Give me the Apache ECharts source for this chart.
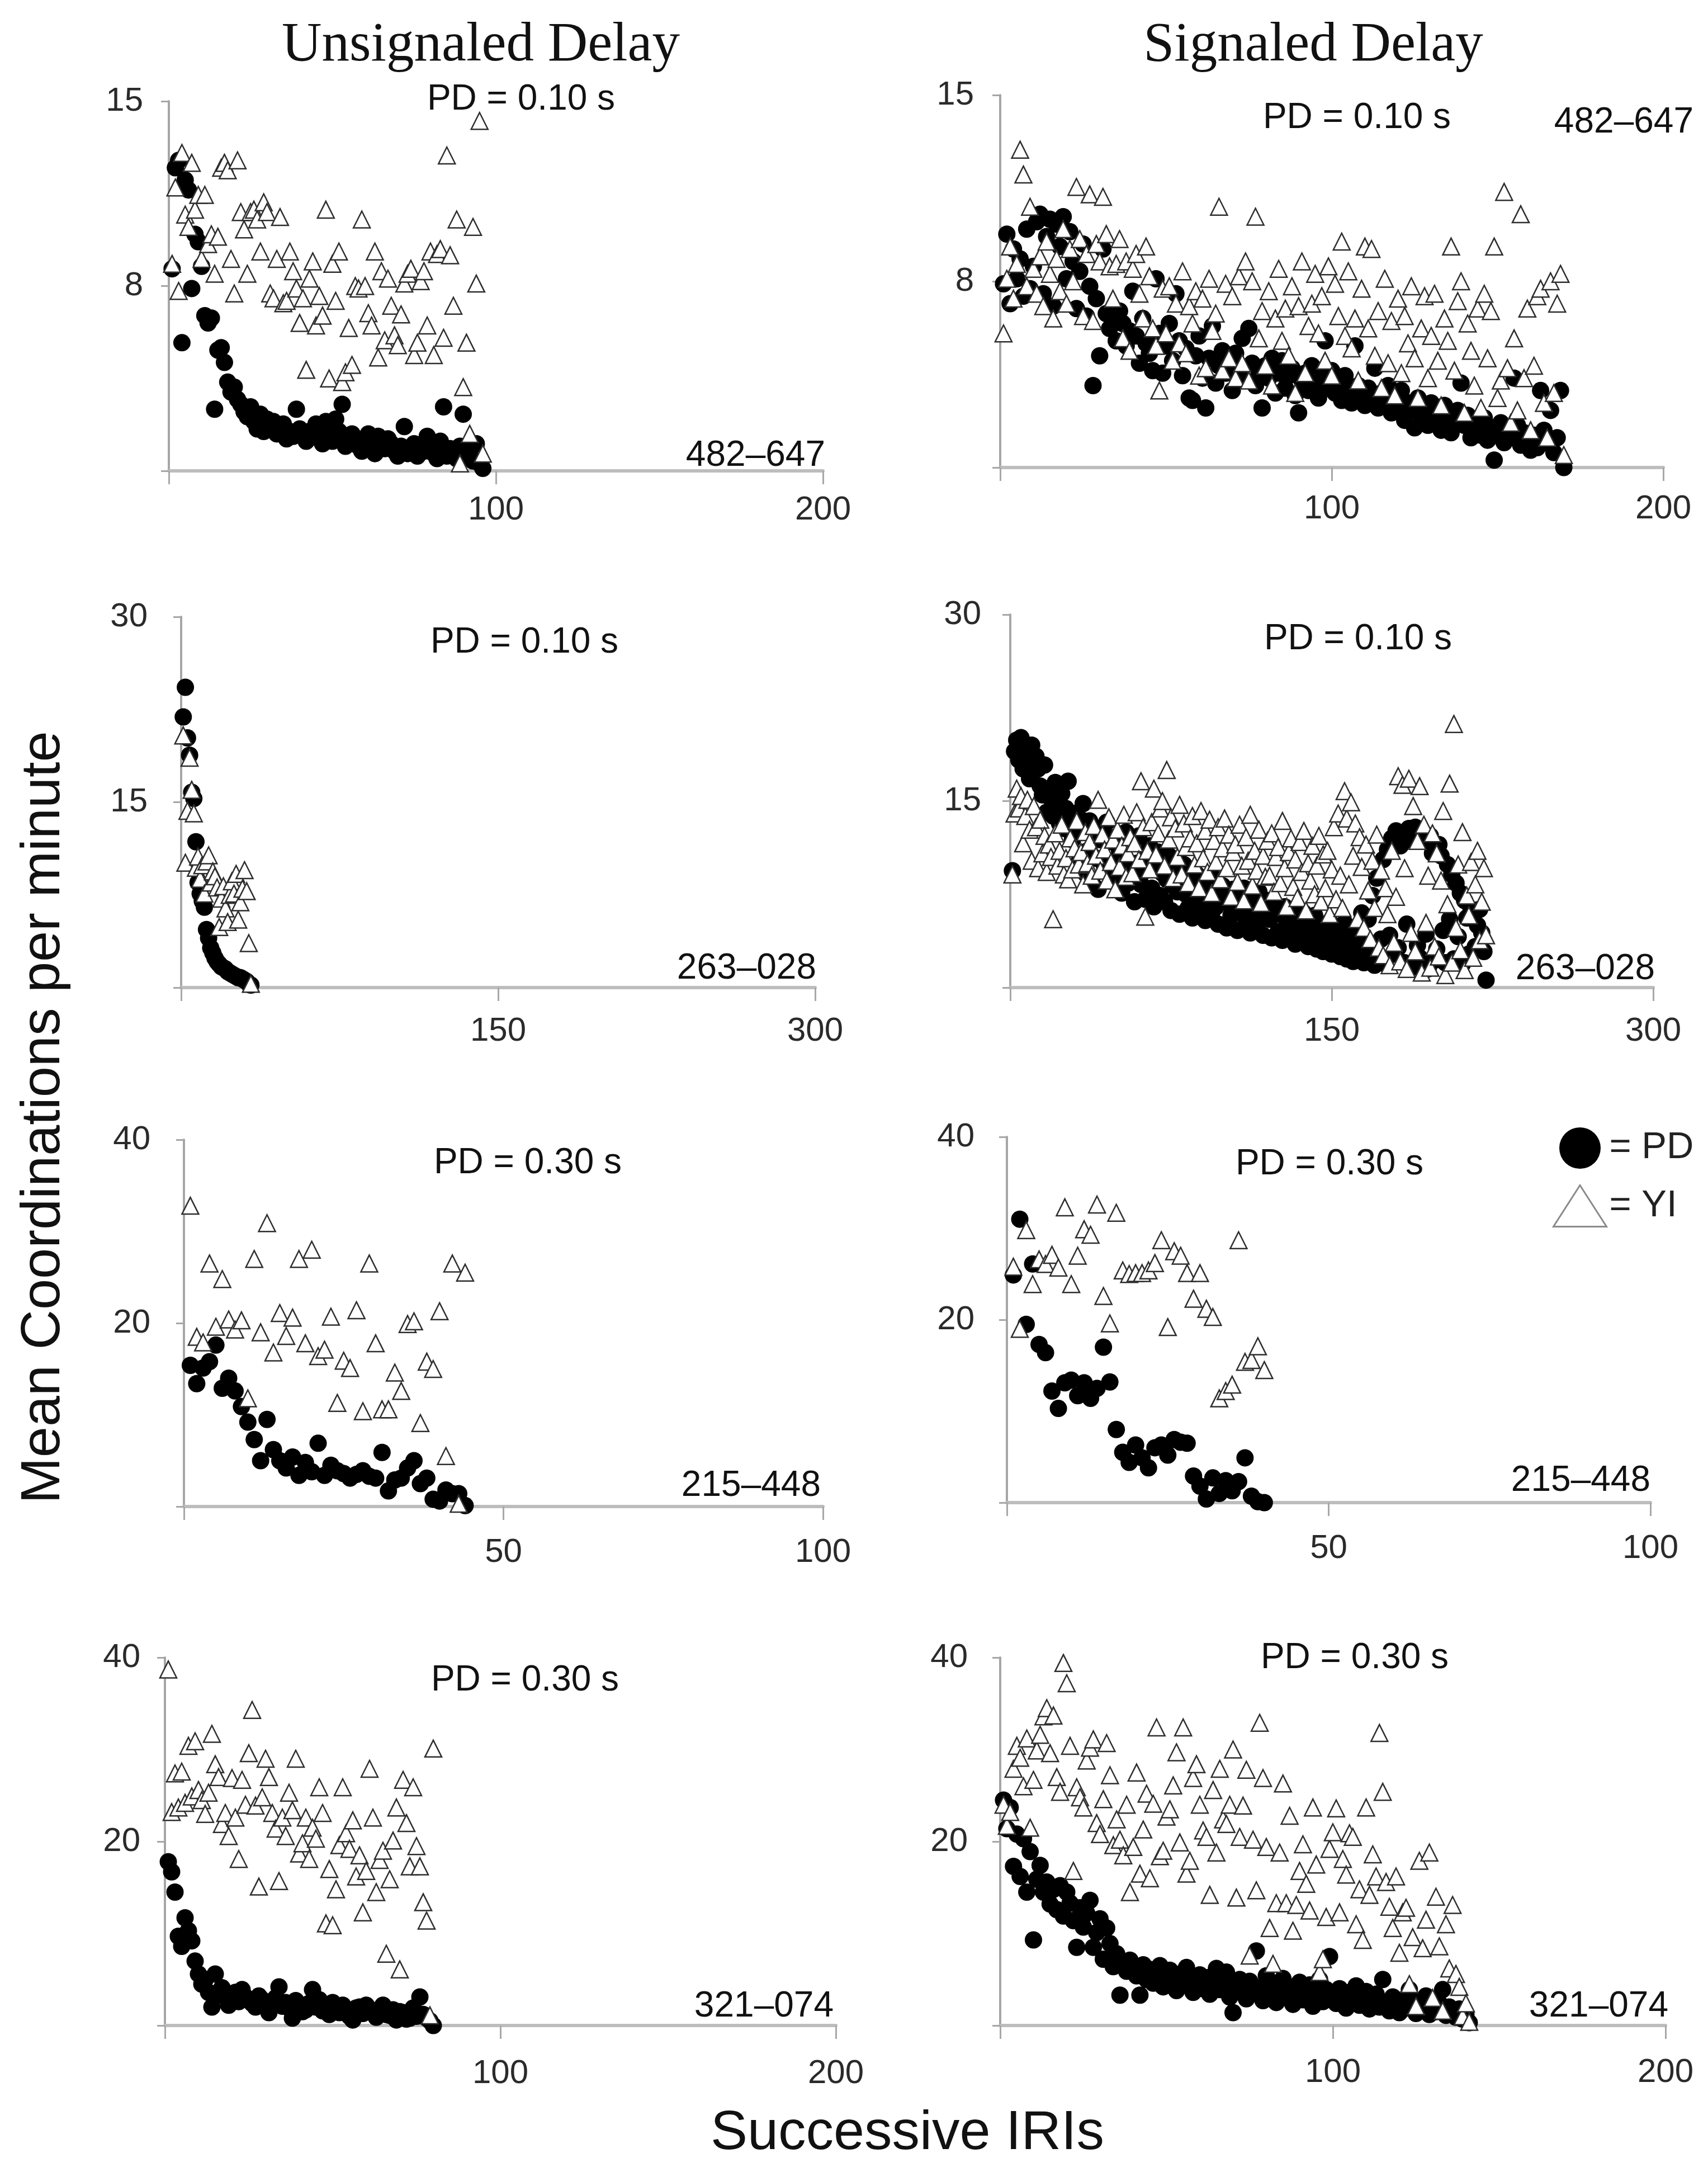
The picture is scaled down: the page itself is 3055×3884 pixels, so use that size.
<!DOCTYPE html>
<html>
<head>
<meta charset="utf-8">
<title>Mean Coordinations per minute</title>
<style>
  html, body { margin: 0; padding: 0; background: #fff; }
  #chart { width: 3055px; height: 3884px; }
</style>
</head>
<body>
<div id="chart"></div>
<script src="https://cdn.jsdelivr.net/npm/echarts@6.0.0/dist/echarts.min.js"></script>
<script>
// panel texts, left column = unsignaled, right column = signaled
var columnTitles = ['Unsignaled Delay', 'Signaled Delay'];
var pdLabels = ['PD = 0.10 s', 'PD = 0.10 s', 'PD = 0.10 s', 'PD = 0.10 s',
                'PD = 0.30 s', 'PD = 0.30 s', 'PD = 0.30 s', 'PD = 0.30 s'];
var subjects = ['482–647', '482–647', '263–028', '263–028',
                '215–448', '215–448', '321–074', '321–074'];

// axis ranges / tick steps
var yMax = [15, 15, 30, 30, 40, 40, 40, 40];
var yStep = [7.5, 7.5, 15, 15, 20, 20, 20, 20];
var xMax = [200, 200, 300, 300, 100, 100, 200, 200];
var xStep = [100, 100, 150, 150, 50, 50, 100, 100];

// one value per successive IRI (x = 1, 2, 3 ...)
var pd1 = [8.2, 12.3, 12.6, 5.2, 11.8, 11.4, 7.4, 9.6, 9.3, 8.3,
  6.3, 6.0, 6.2, 2.5, 4.9, 5.0, 4.4, 3.6, 3.2, 3.4,
  2.9, 2.7, 2.4, 2.2, 2.6, 2.0, 1.7, 2.3, 1.6, 2.1,
  1.8, 2.0, 1.5, 1.7, 1.9, 1.3, 1.6, 1.4, 2.5, 1.7,
  1.5, 1.2, 1.6, 1.4, 1.9, 1.3, 1.1, 2.0, 1.5, 1.2,
  2.1, 1.6, 2.7, 1.0, 1.3, 1.5, 1.2, 1.0, 0.8, 1.1,
  1.5, 1.2, 0.7, 1.4, 1.0, 0.9, 1.3, 1.1, 0.8, 0.6,
  1.0, 1.8, 0.7, 0.9, 1.1, 0.6, 1.0, 0.8, 1.4, 0.9,
  0.7, 0.5, 1.2, 2.6, 0.6, 0.9, 0.7, 0.5, 1.0, 2.3,
  0.6, 0.8, 0.4, 1.1, 0.3, 0.1];
var yi1 = [8.4, 11.5, 7.3, 12.9, 10.4, 9.9, 12.5, 10.6, 11.2, 8.6,
  11.2, 9.2, 9.6, 8.0, 9.5, 12.3, 12.5, 12.2, 8.6, 7.2,
  12.6, 10.5, 9.8, 8.0, 10.5, 10.6, 10.2, 8.9, 10.9, 10.5,
  7.2, 7.0, 8.6, 10.3, 6.8, 6.9, 8.9, 8.1, 7.4, 6.0,
  7.0, 4.1, 7.8, 8.5, 5.9, 7.1, 6.3, 10.6, 3.75, 8.4,
  6.9, 8.9, 3.6, 4.0, 5.8, 4.3, 7.5, 7.4, 10.2, 7.5,
  6.4, 5.9, 8.9, 4.6, 8.1, 5.3, 7.8, 6.7, 5.5, 5.1,
  6.35, 7.6, 8.0, 8.2, 4.7, 5.2, 7.7, 8.1, 5.9, 8.9,
  4.7, 8.8, 9.0, 5.4, 12.8, 8.75, 6.7, 10.2, 0.3, 3.4,
  5.2, 1.5, 9.9, 7.6, 14.2, 0.7];

var pd2 = [7.4, 9.4, 6.6, 8.8, 7.6, 8.4, 6.9, 9.6, 7.2, 8.1,
  9.9, 10.2, 7.0, 9.3, 10.0, 6.5, 9.8, 8.9, 10.1, 7.6,
  9.5, 8.3, 6.4, 7.9, 9.0, 6.1, 7.3, 3.3, 6.8, 4.5,
  8.8, 6.2, 5.6, 6.0, 5.1, 6.3, 5.8, 4.9, 5.5, 7.1,
  5.3, 4.2, 6.0, 5.0, 4.6, 3.9, 7.6, 5.4, 3.8, 4.9,
  5.8, 4.3, 7.0, 5.1, 3.7, 4.8, 2.8, 2.7, 4.5, 5.3,
  3.6, 2.4, 4.4, 5.7, 3.4, 4.1, 4.7, 3.8, 4.3, 3.1,
  4.6, 4.0, 5.2, 3.5, 5.6, 4.2, 3.3, 3.9, 2.4, 4.1,
  3.6, 4.4, 3.0, 3.8, 4.3, 3.2, 3.7, 4.0, 2.9, 2.2,
  3.5, 3.8, 3.1, 4.1, 3.4, 2.8, 3.6, 5.1, 3.2, 3.9,
  3.0, 3.4, 2.7, 3.7, 3.1, 2.6, 4.9, 3.3, 2.9, 2.5,
  3.2, 2.8, 4.0, 2.4, 3.0, 2.7, 3.3, 2.2, 2.9, 2.5,
  3.1, 1.9, 2.6, 2.3, 1.6, 2.8, 2.1, 2.4, 1.7, 2.6,
  1.8, 2.2, 1.5, 2.5, 2.0, 1.4, 1.9, 2.3, 3.4, 1.7,
  2.1, 1.2, 1.9, 1.6, 1.3, 2.0, 1.1, 1.6, 0.3, 1.4,
  1.8, 1.0, 1.5, 1.2, 3.6, 1.7, 0.9, 1.4, 1.1, 0.7,
  1.3, 0.8, 3.1, 1.5, 1.0, 2.3, 0.6, 1.2, 3.1, 0.0];
var yi2 = [5.4, 7.6, 8.9, 6.8, 8.2, 12.8, 11.8, 7.3, 10.5, 8.0,
  7.0, 8.5, 6.5, 9.1, 7.8, 6.0, 8.4, 7.1, 9.6, 6.6,
  8.8, 7.5, 11.3, 9.2, 6.1, 8.6, 11.0, 5.9, 9.0, 8.3,
  10.9, 9.4, 8.1, 6.8, 8.2, 9.2, 5.2, 8.3, 4.7, 8.0,
  8.6, 7.0, 6.0, 8.9, 7.7, 5.6, 4.9, 3.1, 7.2, 5.4,
  7.3, 4.3, 6.6, 5.0, 7.9, 4.6, 6.5, 5.8, 7.1, 3.7,
  6.8, 4.0, 7.6, 5.5, 6.2, 10.5, 3.9, 7.4, 4.4, 6.9,
  3.6, 7.7, 4.2, 8.3, 3.5, 7.5, 10.1, 5.2, 6.3, 4.1,
  7.1, 3.3, 6.0, 8.0, 5.1, 6.4, 4.5, 7.3, 3.0, 6.5,
  8.3, 3.8, 5.7, 6.6, 7.8, 5.4, 6.9, 4.3, 8.1, 3.7,
  7.4, 6.1, 9.1, 5.3, 7.9, 4.8, 6.0, 3.5, 7.2, 8.9,
  5.6, 8.8, 4.5, 6.3, 3.2, 7.6, 4.2, 5.9, 2.9, 6.8,
  3.8, 6.1, 5.0, 7.3, 4.4, 2.8, 5.6, 6.9, 3.6, 5.3,
  7.0, 4.3, 2.5, 6.0, 5.1, 8.9, 3.9, 6.7, 7.5, 2.2,
  5.8, 4.7, 3.3, 6.4, 2.4, 7.0, 4.4, 6.3, 8.9, 2.8,
  3.5, 11.1, 4.0, 1.8, 5.2, 2.3, 10.2, 3.6, 6.4, 1.5,
  4.1, 6.9, 7.2, 2.6, 1.2, 7.5, 3.0, 6.6, 7.8, 0.5];

var pd3 = [21.9, 24.3, 20.2, 18.8, 15.8, 15.3, 11.8, 8.5, 7.6, 7.0,
  6.5, 4.7, 4.0, 3.2, 2.8, 2.4, 2.1, 1.9, 1.7, 1.6,
  1.5, 1.3, 1.2, 1.1, 1.0, 0.9, 0.8, 0.8, 0.7, 0.6,
  0.5, 0.3, 0.2];
var yi3 = [20.4, 10.1, 14.3, 18.6, 16.0, 14.1, 9.7, 10.6, 8.8, 9.9,
  7.6, 10.2, 10.7, 8.5, 9.4, 9.0, 8.1, 4.9, 7.2, 8.2,
  6.4, 5.3, 7.5, 8.6, 7.6, 9.2, 5.5, 6.9, 8.0, 9.5,
  7.8, 3.6, 0.3];

var pd4 = [9.4, 19.0, 19.9, 18.3, 20.1, 17.6, 19.3, 18.0, 16.8, 19.5,
  17.4, 18.6, 17.6, 16.2, 15.5, 17.9, 14.1, 16.0, 15.2, 13.8,
  16.5, 14.7, 13.2, 15.6, 12.8, 14.4, 16.6, 13.5, 11.9, 14.0,
  12.6, 10.1, 13.5, 14.8, 9.2, 11.0, 13.4, 8.6, 12.9, 10.4,
  7.9, 11.9, 12.6, 9.7, 13.3, 10.2, 8.8, 11.7, 12.1, 9.0,
  11.0, 7.6, 10.3, 12.5, 8.4, 9.1, 11.6, 6.9, 10.0, 12.2,
  8.3, 9.3, 7.1, 10.5, 11.4, 8.0, 6.5, 9.8, 10.9, 7.4,
  9.2, 6.9, 8.7, 10.6, 6.2, 8.2, 9.5, 7.7, 5.9, 8.9,
  9.9, 7.5, 6.4, 8.6, 5.6, 7.0, 9.1, 6.2, 8.3, 7.8,
  5.4, 8.1, 7.2, 6.0, 8.8, 6.5, 5.1, 7.6, 8.2, 6.9,
  4.8, 7.3, 5.8, 7.9, 6.7, 4.6, 7.5, 6.3, 8.0, 5.2,
  6.9, 4.4, 7.2, 6.1, 5.0, 7.7, 6.6, 4.2, 5.7, 7.0,
  5.5, 4.0, 6.8, 6.0, 4.5, 5.9, 3.8, 6.5, 5.3, 4.3,
  6.2, 4.8, 3.5, 5.7, 5.1, 3.9, 6.0, 4.6, 3.3, 5.4,
  4.1, 5.8, 3.1, 4.4, 5.0, 2.9, 4.7, 3.6, 5.3, 2.7,
  4.2, 3.4, 4.9, 2.5, 3.8, 5.2, 2.3, 4.0, 3.0, 2.1,
  4.5, 2.8, 3.3, 6.0, 2.0, 3.6, 5.5, 2.6, 7.4, 1.8,
  8.8, 2.5, 3.9, 10.3, 1.9, 11.1, 4.2, 12.0, 2.7, 12.6,
  3.2, 11.4, 12.3, 2.0, 5.1, 12.8, 1.6, 11.8, 12.9, 3.4,
  2.4, 12.5, 11.9, 4.3, 1.5, 12.2, 10.8, 2.2, 3.1, 11.5,
  10.6, 4.6, 2.0, 9.9, 5.5, 9.1, 2.3, 8.4, 4.1, 7.6,
  1.9, 7.0, 5.6, 2.7, 6.3, 5.8, 3.3, 5.0, 6.3, 4.4,
  2.9, 0.6];
var yi4 = [9.1, 14.0, 16.0, 14.4, 15.4, 11.6, 13.8, 15.1, 12.7, 10.2,
  14.6, 12.9, 9.6, 13.5, 10.8, 12.2, 9.3, 11.5, 10.5, 5.5,
  12.4, 9.8, 11.0, 13.1, 9.1, 10.4, 8.7, 12.0, 9.5, 11.2,
  13.4, 9.9, 10.9, 8.3, 12.5, 10.0, 11.7, 9.0, 13.0, 10.6,
  15.1, 9.4, 12.3, 11.1, 8.6, 13.7, 10.1, 11.9, 7.9, 12.7,
  9.7, 11.4, 13.9, 8.9, 10.8, 12.1, 9.2, 11.6, 14.1, 10.3,
  16.6, 12.9, 5.7, 11.0, 9.5, 13.3, 16.0, 10.7, 12.4, 14.4,
  15.0, 9.8, 17.5, 11.9, 13.7, 8.8, 12.8, 10.5, 14.7, 9.1,
  13.2, 11.3, 8.4, 12.0, 13.8, 9.9, 11.6, 8.0, 14.2, 10.4,
  12.6, 9.3, 13.5, 7.6, 11.8, 10.1, 12.9, 8.7, 11.2, 13.6,
  9.6, 12.3, 7.3, 10.9, 11.5, 8.5, 13.1, 9.8, 7.0, 12.1,
  10.2, 13.9, 8.2, 11.0, 9.4, 12.7, 6.8, 10.6, 8.9, 11.8,
  9.0, 12.4, 7.7, 10.5, 11.3, 8.4, 13.4, 9.6, 6.5, 10.9,
  12.0, 8.1, 10.3, 7.2, 11.7, 9.3, 12.6, 6.2, 10.0, 8.6,
  11.4, 7.5, 9.8, 12.2, 6.9, 10.7, 8.0, 11.0, 5.9, 9.5,
  12.9, 7.1, 14.0, 9.0, 6.4, 15.8, 13.6, 8.3, 14.9, 10.6,
  13.2, 5.5, 12.1, 9.7, 4.8, 11.5, 7.8, 3.9, 10.2, 6.4,
  12.3, 3.2, 9.4, 2.6, 8.0, 5.9, 1.8, 11.0, 3.6, 7.3,
  17.0, 2.1, 16.3, 9.6, 1.5, 16.8, 4.4, 14.6, 2.9, 11.8,
  16.2, 1.2, 13.1, 5.2, 9.0, 1.6, 12.4, 3.3, 10.8, 2.5,
  8.6, 14.2, 1.0, 6.7, 16.4, 2.0, 21.2, 4.8, 9.9, 3.0,
  12.5, 1.4, 7.4, 5.8, 10.1, 2.4, 8.3, 11.0, 3.8, 6.9,
  9.6, 4.2];

var pd5 = [15.4, 13.4, 15.1, 15.8, 17.6, 12.9, 14.0, 12.6, 10.9, 9.2,
  7.3, 5.0, 9.5, 6.2, 5.0, 4.2, 5.4, 3.4, 4.8, 3.8,
  6.9, 3.4, 4.5, 3.9, 3.6, 3.1, 3.5, 3.9, 3.3, 3.1,
  5.9, 1.7, 2.9, 3.1, 4.2, 5.0, 2.5, 3.1, 0.8, 0.6,
  1.8, 1.4, 1.4, 0.1];
var yi5 = [32.8, 18.5, 17.9, 26.5, 19.6, 24.8, 20.4, 19.3, 20.3, 11.8,
  27.0, 19.0, 30.9, 16.8, 21.1, 18.6, 20.6, 27.0, 17.8, 28.0,
  16.4, 17.1, 20.7, 11.3, 15.9, 15.1, 21.4, 10.4, 26.5, 17.8,
  10.6, 10.6, 14.6, 12.6, 19.9, 20.2, 9.1, 15.8, 15.0, 21.3,
  5.5, 26.5, 0.3, 25.5];

var pd6 = [24.9, 31.0, 19.5, 26.1, 17.3, 16.4, 12.2, 10.3, 13.1, 13.4,
  11.7, 13.1, 11.4, 12.5, 17.0, 13.2, 8.0, 5.5, 4.4, 6.3,
  4.9, 3.8, 6.0, 6.3, 5.2, 6.9, 6.6, 6.5, 2.9, 1.8,
  0.4, 2.7, 1.0, 2.4, 1.3, 2.3, 4.9, 0.7, 0.1, 0.0];
var yi6 = [25.8, 19.0, 29.8, 23.9, 26.6, 26.1, 27.1, 25.7, 32.3, 23.9,
  27.0, 29.9, 29.3, 32.6, 22.6, 19.6, 31.7, 25.4, 25.0, 25.1,
  25.1, 25.4, 26.2, 28.7, 19.2, 27.5, 27.0, 25.1, 22.3, 25.1,
  21.2, 20.3, 11.4, 12.2, 12.9, 28.7, 15.4, 15.6, 17.1, 14.5];

var pd7 = [17.8, 16.7, 14.5, 9.7, 8.6, 11.7, 10.3, 9.2, 7.0, 5.6,
  4.5, 5.0, 3.6, 2.0, 5.6, 3.3, 4.1, 3.6, 2.2, 3.0,
  3.6, 2.6, 3.9, 3.1, 2.8, 2.4, 2.0, 3.2, 2.8, 2.3,
  1.4, 2.6, 3.0, 4.2, 2.1, 2.5, 1.9, 0.8, 2.7, 2.2,
  1.5, 1.7, 2.4, 3.9, 2.0, 2.8, 1.6, 2.0, 1.2, 2.5,
  1.8, 1.4, 2.2, 1.7, 1.0, 0.6, 1.9, 2.0, 1.3, 2.2,
  1.6, 1.4, 0.9, 1.8, 2.2, 1.2, 1.1, 1.7, 0.6, 1.5,
  1.4, 0.7, 0.8, 1.9, 1.0, 3.1, 1.2, 0.8, 0.5, 0.0];
var yi7 = [38.7, 23.2, 27.4, 23.7, 27.6, 24.2, 30.4, 24.9, 30.9, 25.6,
  24.5, 23.0, 25.3, 31.7, 28.4, 27.0, 21.9, 23.1, 20.6, 26.9,
  22.6, 18.1, 26.7, 24.0, 29.6, 34.3, 23.9, 15.1, 24.8, 29.0,
  27.0, 23.1, 21.4, 15.7, 22.6, 20.6, 25.3, 23.4, 29.0, 18.7,
  19.8, 22.6, 18.1, 21.5, 20.3, 25.9, 23.1, 11.1, 17.0, 10.9,
  14.8, 19.6, 25.9, 20.9, 19.2, 22.3, 16.2, 18.5, 12.3, 16.8,
  27.9, 22.6, 14.5, 18.0, 19.0, 7.8, 15.9, 20.1, 23.7, 6.1,
  26.7, 22.0, 17.3, 25.9, 19.5, 17.3, 13.4, 11.4, 1.1, 30.1];

var pd8 = [24.5, 21.4, 23.7, 17.3, 20.8, 16.2, 20.3, 14.5, 18.9, 9.3,
  15.9, 17.4, 14.5, 15.6, 13.2, 14.8, 12.6, 15.2, 11.9, 14.5,
  13.3, 11.4, 8.5, 12.8, 10.7, 12.2, 13.6, 8.5, 10.1, 11.6,
  7.2, 10.6, 8.9, 6.4, 7.8, 3.3, 6.9, 5.9, 7.1, 6.2,
  5.4, 3.3, 6.6, 5.0, 6.1, 4.6, 5.7, 6.5, 4.2, 5.3,
  6.0, 4.8, 3.8, 5.6, 4.4, 6.3, 5.1, 3.6, 4.7, 5.5,
  4.0, 5.2, 3.4, 4.9, 6.2, 3.9, 4.5, 5.8, 3.1, 1.4,
  4.3, 5.0, 3.7, 2.9, 4.8, 3.5, 8.1, 4.1, 2.7, 5.4,
  3.6, 4.6, 2.5, 3.9, 5.1, 3.0, 4.2, 2.3, 3.3, 4.7,
  2.8, 3.8, 4.4, 2.1, 3.4, 5.0, 2.6, 3.9, 7.5, 3.1,
  2.4, 4.0, 3.2, 1.9, 3.6, 2.9, 4.3, 2.2, 3.0, 3.7,
  1.8, 2.7, 3.4, 2.0, 5.0, 2.5, 1.6, 3.1, 2.3, 1.4,
  2.8, 1.9, 3.9, 2.2, 1.3, 2.6, 1.7, 3.2, 1.2, 2.1,
  1.5, 2.4, 3.9, 1.1, 2.0, 1.4, 0.9, 1.8, 0.7, 1.2,
  0.3];
var yi8 = [24.0, 21.7, 23.2, 27.9, 30.4, 29.1, 26.0, 31.2, 21.5, 26.7,
  29.9, 31.6, 33.6, 34.5, 29.6, 33.7, 27.0, 25.4, 39.4, 37.2,
  30.4, 16.8, 25.9, 24.8, 23.7, 28.8, 30.2, 31.1, 22.0, 20.8,
  24.6, 30.7, 27.2, 19.6, 22.4, 20.2, 18.5, 24.0, 14.5, 19.4,
  27.5, 16.5, 21.3, 25.2, 16.0, 24.1, 32.4, 18.4, 19.0, 22.7,
  23.5, 26.1, 29.7, 19.9, 32.4, 16.5, 17.9, 26.9, 28.4, 24.0,
  21.2, 20.5, 14.2, 25.6, 18.8, 27.9, 22.4, 21.9, 24.0, 30.0,
  13.9, 20.5, 23.9, 27.8, 7.6, 20.2, 14.7, 32.9, 26.9, 19.4,
  10.6, 6.7, 13.3, 18.8, 26.3, 13.3, 22.8, 10.3, 13.1, 16.8,
  19.7, 15.4, 12.5, 23.7, 17.5, 5.8, 7.2, 11.8, 19.2, 21.0,
  23.6, 12.3, 18.1, 16.4, 20.9, 20.5, 11.0, 14.8, 9.3, 23.7,
  14.2, 18.6, 16.2, 31.8, 25.4, 15.6, 12.9, 10.6, 16.2, 7.9,
  12.3, 12.8, 4.5, 9.6, 2.1, 17.9, 8.4, 11.5, 18.8, 3.0,
  14.0, 8.6, 1.6, 11.0, 6.2, 13.1, 5.6, 4.2, 1.0, 2.4,
  0.4];

var pdSets = [pd1, pd2, pd3, pd4, pd5, pd6, pd7, pd8];
var yiSets = [yi1, yi2, yi3, yi4, yi5, yi6, yi7, yi8];

// plot boxes: left, top, width, height
var boxes = [
  [302, 181, 1170, 661], [1789, 170, 1186, 666],
  [324, 1103, 1134, 663], [1807, 1099, 1150, 667],
  [329, 2038, 1143, 656], [1801, 2033, 1151, 654],
  [295, 2964, 1200, 658], [1789, 2964, 1190, 658]
];
var yLabelGap = [46, 47, 60, 52, 60, 58, 44, 58];
var xLabelGap = [40, 44, 48, 48, 52, 52, 56, 54];
var pdPos = [[932, 178], [2427, 211], [938, 1149], [2429, 1143],
             [944, 2080], [2378, 2082], [939, 3005], [2423, 2965]];
var idPos = [[1476, 815], [3029, 219], [1460, 1732], [2960, 1733],
             [1468, 2657], [2952, 2648], [1491, 3588], [2984, 3588]];

var sans = '"Liberation Sans", Arial, sans-serif';
var serif = '"Liberation Serif", "Times New Roman", serif';

var chart = echarts.init(document.getElementById('chart'));

var grids = [], xAxes = [], yAxes = [], series = [], texts = [];

function txt(x, y, s, size, family, align, rot) {
  return {
    type: 'text', x: x, y: y, rotation: rot || 0, silent: true,
    style: {
      text: s, font: size + 'px ' + family, fill: '#111',
      align: align, verticalAlign: 'middle',
      textAlign: align, textVerticalAlign: 'middle'
    }
  };
}

for (var i = 0; i < 8; i++) {
  var b = boxes[i];
  grids.push({ left: b[0], top: b[1], width: b[2], height: b[3] });

  xAxes.push({
    type: 'value', gridIndex: i, min: 0, max: xMax[i], interval: xStep[i],
    splitLine: { show: false },
    axisLine: { onZero: false, lineStyle: { color: '#bdbdbd', width: 6 } },
    axisTick: { length: 24, lineStyle: { color: '#a8a8a8', width: 3 } },
    axisLabel: {
      margin: xLabelGap[i], fontSize: 60, fontFamily: sans, color: '#2a2a2a',
      formatter: function (v) { return v === 0 ? '' : String(v); }
    }
  });

  yAxes.push({
    type: 'value', gridIndex: i, min: 0, max: yMax[i], interval: yStep[i],
    splitLine: { show: false },
    axisLine: { show: true, lineStyle: { color: '#a6a6a6', width: 4 } },
    axisTick: { show: true, length: 14, lineStyle: { color: '#a6a6a6', width: 3 } },
    axisLabel: {
      margin: yLabelGap[i], fontSize: 60, fontFamily: sans, color: '#2a2a2a',
      formatter: function (v) { return v === 0 ? '' : String(Math.round(v)); }
    }
  });

  series.push({
    name: 'PD', type: 'scatter', xAxisIndex: i, yAxisIndex: i,
    symbol: 'circle', symbolSize: 31, clip: false,
    itemStyle: { color: '#000', opacity: 1 },
    data: pdSets[i].map(function (v, k) { return [k + 1, v]; })
  });
  series.push({
    name: 'YI', type: 'scatter', xAxisIndex: i, yAxisIndex: i,
    symbol: 'triangle', symbolSize: 30, clip: false,
    itemStyle: { color: '#fff', borderColor: '#2e2e2e', borderWidth: 2.5, opacity: 1 },
    data: yiSets[i].map(function (v, k) { return [k + 1, v]; })
  });

  texts.push(txt(pdPos[i][0], pdPos[i][1], pdLabels[i], 64, sans, 'center'));
  texts.push(txt(idPos[i][0], idPos[i][1], subjects[i], 64, sans, 'right'));
}

texts.push(txt(860, 82, columnTitles[0], 99, serif, 'center'));
texts.push(txt(2349, 82, columnTitles[1], 99, serif, 'center'));
texts.push(txt(79, 1998, 'Mean Coordinations per minute', 99, sans, 'center', Math.PI / 2));
texts.push(txt(1623, 3816, 'Successive IRIs', 99, sans, 'center'));

chart.setOption({
  animation: false,
  backgroundColor: '#fff',
  grid: grids,
  xAxis: xAxes,
  yAxis: yAxes,
  legend: {
    orient: 'vertical', left: 2777, top: 2016, padding: 0,
    itemWidth: 95, itemHeight: 74, itemGap: 28,
    selectedMode: false,
    formatter: '= {name}',
    textStyle: { fontFamily: sans, fontSize: 67, color: '#222' },
    data: [
      { name: 'PD', itemStyle: { color: '#000', opacity: 1 } },
      { name: 'YI', itemStyle: { color: '#fff', borderColor: '#8a8a8a', borderWidth: 3, opacity: 1 } }
    ]
  },
  graphic: texts,
  series: series
});
</script>
</body>
</html>
